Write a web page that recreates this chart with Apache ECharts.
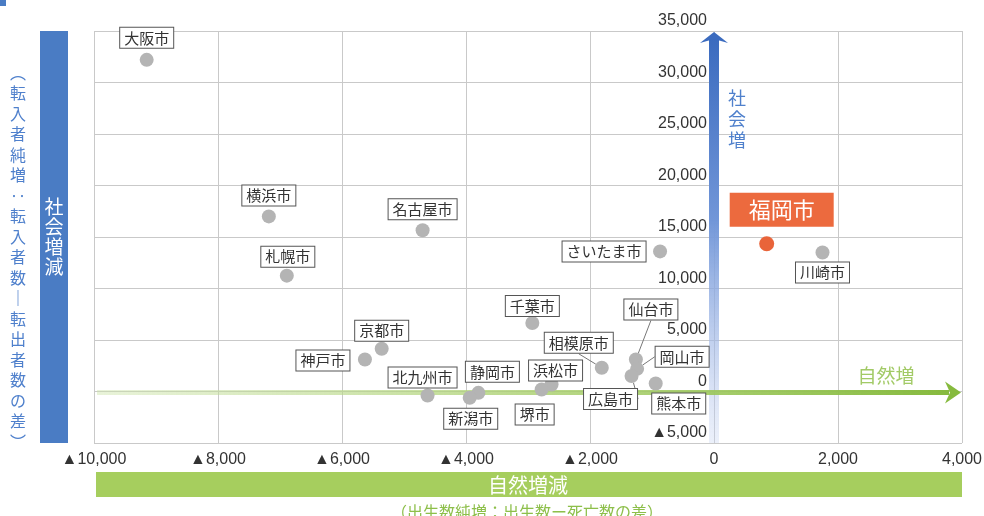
<!DOCTYPE html>
<html>
<head>
<meta charset="utf-8">
<script src="https://cdn.jsdelivr.net/npm/echarts@6/dist/echarts.min.js"></script>
<style>
html, body { margin: 0; padding: 0; background: #fff; }
#chart { width: 984px; height: 516px; }
</style>
</head>
<body>
<div id="chart"></div>
<script>
// 政令指定都市の人口増減（自然増減 × 社会増減）
const cities = ['大阪市', '横浜市', '名古屋市', '札幌市', 'さいたま市', '川崎市', '千葉市', '京都市', '神戸市',
  '相模原市', '仙台市', '岡山市', '広島市', '熊本市', '浜松市', '堺市', '静岡市', '新潟市', '北九州市'];
// 自然増減（出生数－死亡数）
const naturalChange = [-9150, -7180, -4700, -6890, -870, 1750, -2930, -5360, -5630,
  -1810, -1260, -1240, -1330, -940, -2620, -2780, -3800, -3940, -4620];
// 社会増減（転入者数－転出者数）
const socialChange = [32200, 17000, 15650, 11250, 13600, 13500, 6650, 4150, 3100,
  2300, 3100, 2200, 1500, 780, 680, 190, -130, -600, -390];

const focusCity = '福岡市';
const focusNatural = 850;
const focusSocial = 14350;

// 軸の目盛り
const xMin = -10000, xMax = 4000, xStep = 2000;
const yMin = -5000, yMax = 35000, yStep = 5000;

// ラベルの配置（点の中心からのずらし量）
const labelShift = [
  [0, -22], [0, -21], [0, -21], [1, -19], [-56, 0], [0, 20], [0, -17], [0, -18], [-42, 1],
  [-23, -25], [15, -50], [45, -12], [-21, 23], [23, 20], [4, -14], [-7, 25], [14, -21], [1, 21], [-5, -18]
];
const leaderLines = ['相模原市', '仙台市', '岡山市', '広島市'];

const JP = '"Noto Sans CJK JP", "Noto Sans", sans-serif';
const NUM = '"Liberation Sans", "DejaVu Sans", sans-serif';

function fmt(v) {
  const s = String(Math.abs(v)).replace(/\B(?=(\d{3})+(?!\d))/g, ',');
  return v < 0 ? '▲' + s : s;
}

const chart = echarts.init(document.getElementById('chart'));

const cityData = cities.map((name, i) => ({
  name: name,
  value: [naturalChange[i], socialChange[i]],
  labelLine: { show: leaderLines.indexOf(name) >= 0 }
}));

const GRID_LEFT = 94;

chart.setOption({
  animation: false,
  grid: { left: GRID_LEFT, right: 22, top: 31, bottom: 73, outerBoundsMode: 'none' },
  xAxis: {
    type: 'value', min: xMin, max: xMax, interval: xStep,
    axisLine: { show: false, onZero: false },
    axisTick: { show: false },
    splitLine: { show: true, lineStyle: { color: '#c9c9c9', width: 1 } },
    axisLabel: { formatter: fmt, color: '#333', fontSize: 16, fontFamily: NUM, margin: 9 }
  },
  yAxis: {
    type: 'value', min: yMin, max: yMax, interval: yStep,
    position: 'left',
    axisLine: { show: false, onZero: false },
    axisTick: { show: false },
    splitLine: { show: true, lineStyle: { color: '#c9c9c9', width: 1 } },
    axisLabel: {
      formatter: fmt, color: '#333', fontSize: 16, fontFamily: NUM,
      margin: 7, verticalAlign: 'bottom', padding: [0, 0, 2, 0]
    }
  },
  series: [
    {
      type: 'scatter',
      z: 3,
      symbolSize: 14,
      itemStyle: { color: '#b4b4b4', opacity: 1 },
      data: cityData,
      label: {
        show: true,
        position: 'inside',
        formatter: p => p.name,
        fontFamily: JP,
        fontSize: 15,
        lineHeight: 17,
        color: '#333',
        backgroundColor: '#fff',
        borderColor: '#555',
        borderWidth: 1,
        padding: [2, 4, 1, 4]
      },
      labelLine: { show: false, lineStyle: { color: '#777', width: 1 } },
      labelLayout: p => ({ dx: labelShift[p.dataIndex][0], dy: labelShift[p.dataIndex][1] })
    },
    {
      type: 'scatter',
      z: 4,
      symbolSize: 15,
      itemStyle: { color: '#e9643a', opacity: 1 },
      data: [{ name: focusCity, value: [focusNatural, focusSocial] }],
      label: {
        show: true,
        position: 'inside',
        formatter: p => p.name,
        fontFamily: JP,
        fontSize: 22,
        lineHeight: 24,
        color: '#fff',
        backgroundColor: '#ec6a3e',
        padding: [5, 19, 5, 19]
      },
      labelLayout: () => ({ dx: 15, dy: -34 })
    }
  ]
});

// 座標軸から求めた位置に矢印・見出し帯を描く
const toPx = v => chart.convertToPixel({ gridIndex: 0 }, v);
const bottomC = toPx([0, yMin]);
const topC = toPx([0, yMax]);
const leftC = toPx([xMin, 0]);
const rightC = toPx([xMax, 0]);
const ax = bottomC[0];
const ay = leftC[1] + 1;

// 縦軸の目盛りラベルを x = 0 の位置へ寄せる
chart.setOption({ yAxis: { offset: -(ax - leftC[0]) } });

const blue = '#4a7cc4';
const green = '#86ba3e';

chart.setOption({
  graphic: [
    // 左上の見出しマーク
    { type: 'rect', shape: { x: 0, y: 0, width: 6, height: 6 }, style: { fill: blue } },
    // 縦軸の矢印（社会増）
    {
      type: 'rect', z: 1,
      shape: { x: ax - 5, y: topC[1] + 7, width: 10, height: bottomC[1] - topC[1] - 7 },
      style: {
        fill: new echarts.graphic.LinearGradient(0, 0, 0, 1, [
          { offset: 0, color: '#3b6bbf' },
          { offset: 0.45, color: '#7196d8' },
          { offset: 1, color: 'rgba(200,212,242,0.35)' }
        ])
      }
    },
    {
      type: 'polygon', z: 1,
      shape: { points: [[ax, topC[1] + 1], [ax + 14, topC[1] + 12], [ax, topC[1] + 8], [ax - 14, topC[1] + 12]] },
      style: { fill: '#3b6bbf' }
    },
    {
      type: 'text', z: 1,
      style: {
        text: '社\n会\n増', x: ax + 23, y: 119, align: 'center', verticalAlign: 'middle',
        font: '18px ' + JP, lineHeight: 21, fill: '#4f80cc'
      }
    },
    // 横軸の矢印（自然増）
    {
      type: 'rect', z: 1,
      shape: { x: leftC[0] + 3, y: ay - 2.5, width: rightC[0] - leftC[0] - 16, height: 5 },
      style: {
        fill: new echarts.graphic.LinearGradient(0, 0, 1, 0, [
          { offset: 0, color: 'rgba(205,228,170,0.45)' },
          { offset: 0.5, color: 'rgba(170,208,110,0.8)' },
          { offset: 1, color: green }
        ])
      }
    },
    {
      type: 'polygon', z: 1,
      shape: { points: [[rightC[0] - 1, ay], [rightC[0] - 17, ay - 11], [rightC[0] - 12, ay], [rightC[0] - 17, ay + 11]] },
      style: { fill: green }
    },
    {
      type: 'text', z: 1,
      style: {
        text: '自然増', x: 886, y: ay - 17, align: 'center', verticalAlign: 'middle',
        font: '19px ' + JP, fill: '#a2ca66'
      }
    },
    // 縦軸の見出し帯
    {
      type: 'rect',
      shape: { x: 40, y: topC[1], width: 28, height: bottomC[1] - topC[1] },
      style: { fill: blue }
    },
    {
      type: 'text',
      style: {
        text: '社\n会\n増\n減', x: 54, y: 237, align: 'center', verticalAlign: 'middle',
        font: '19px ' + JP, lineHeight: 20, fill: '#fff'
      }
    },
    {
      type: 'text',
      style: {
        text: '︵転入者純増‥転入者数｜転出者数の差︶'.split('').join('\n'),
        x: 18, y: 257, align: 'center', verticalAlign: 'middle',
        font: '16px ' + JP, lineHeight: 20.5, fill: '#4f80cc'
      }
    },
    // 横軸の見出し帯
    {
      type: 'rect',
      shape: { x: leftC[0] + 2, y: 472, width: rightC[0] - leftC[0] - 2, height: 25 },
      style: { fill: '#a6ce5e' }
    },
    {
      type: 'text',
      style: {
        text: '自然増減', x: (leftC[0] + rightC[0]) / 2, y: 485, align: 'center', verticalAlign: 'middle',
        font: '20px ' + JP, fill: '#fff'
      }
    },
    {
      type: 'text',
      style: {
        text: '（出生数純増：出生数ー死亡数の差）', x: 527, y: 512, align: 'center', verticalAlign: 'middle',
        font: '16px ' + JP, fill: '#8dbf4a'
      }
    }
  ]
});
</script>
</body>
</html>
